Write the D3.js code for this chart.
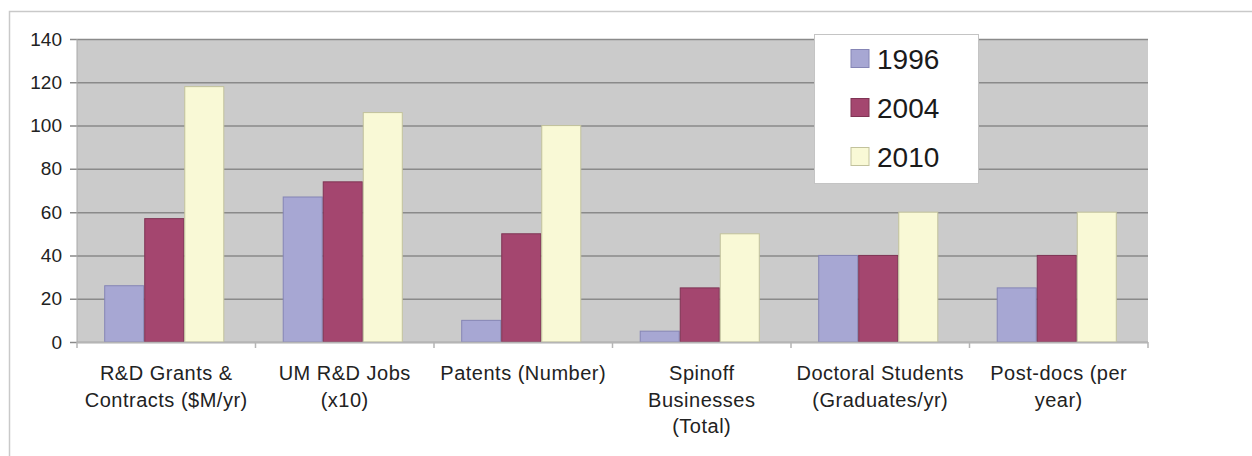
<!DOCTYPE html>
<html><head><meta charset="utf-8">
<script src="https://cdn.jsdelivr.net/npm/d3@7"></script>
<style>
html,body{margin:0;padding:0;background:#fff;}
svg{display:block;font-family:"Liberation Sans",Arial,sans-serif;}
</style></head>
<body>
<svg id="chart" width="1252" height="456"></svg>
<script>
const categories = [
  ["R&D Grants &", "Contracts ($M/yr)"],
  ["UM R&D Jobs", "(x10)"],
  ["Patents (Number)"],
  ["Spinoff", "Businesses", "(Total)"],
  ["Doctoral Students", "(Graduates/yr)"],
  ["Post-docs (per", "year)"]
];
const series = ["1996", "2004", "2010"];
const values1996 = [26, 67, 10, 5, 40, 25];
const values2004 = [57, 74, 50, 25, 40, 40];
const values2010 = [118, 106, 100, 50, 60, 60];
const yTicks = [0, 20, 40, 60, 80, 100, 120, 140];

const seriesValues = [values1996, values2004, values2010];
const fills = ["#a7a7d3", "#a4466f", "#f9f9d6"];
const strokes = ["#8585b5", "#7f3454", "#c2c29c"];

const svg = d3.select("#chart");
const pLeft = 77, pRight = 1148, pTop = 39, pBottom = 342;

// outer frame
svg.append("path").attr("d", "M9.5,456 V11.5 H1252")
  .attr("fill", "none").attr("stroke", "#c9c9c9").attr("stroke-width", 1.5);

const catIdx = categories.map((d, i) => i);
const x0 = d3.scaleBand().domain(catIdx).range([pLeft, pRight]).paddingInner(0).paddingOuter(0);
const x1 = d3.scaleBand().domain(series).range([-2, x0.bandwidth() - 2]).paddingInner(0).paddingOuter(0.73);
const y = d3.scaleLinear().domain([0, 140]).range([pBottom, pTop]);

// plot background
svg.append("rect").attr("x", pLeft).attr("y", pTop).attr("width", pRight - pLeft).attr("height", pBottom - pTop)
  .attr("fill", "#cbcbcb");

// gridlines + y axis
const yAxis = d3.axisLeft(y).tickValues(yTicks).tickSize(-(pRight - pLeft)).tickPadding(9);
const gy = svg.append("g").attr("transform", `translate(${pLeft},0)`).call(yAxis);
gy.select(".domain").remove();
gy.selectAll(".tick line").attr("stroke", "#8a8a8a").attr("stroke-width", 1.5).attr("x1", -7);
gy.selectAll(".tick text").attr("font-size", 19).attr("fill", "#222")
  .attr("font-family", "'Liberation Sans',Arial,sans-serif").attr("x", -15);
svg.append("line").attr("x1", pLeft).attr("x2", pLeft).attr("y1", pTop).attr("y2", pBottom)
  .attr("stroke", "#a8a8a8").attr("stroke-width", 1);

// bars
const groups = svg.append("g").selectAll("g").data(catIdx).join("g")
  .attr("transform", d => `translate(${x0(d)},0)`);
groups.selectAll("rect").data(ci => series.map((s, si) => ({s, si, v: seriesValues[si][ci]})))
  .join("rect")
  .attr("x", d => x1(d.s) + 0.5)
  .attr("width", x1.bandwidth() - 1)
  .attr("y", d => y(d.v))
  .attr("height", d => y(0) - y(d.v))
  .attr("fill", d => fills[d.si])
  .attr("stroke", d => strokes[d.si])
  .attr("stroke-width", 1);

// x axis
svg.append("line").attr("x1", pLeft).attr("x2", pRight).attr("y1", pBottom + 0.5).attr("y2", pBottom + 0.5)
  .attr("stroke", "#b5b5b5").attr("stroke-width", 1.5);
const boundaries = catIdx.map(i => x0(i)).concat([x0(catIdx[catIdx.length - 1]) + x0.bandwidth()]);
svg.append("g").selectAll("line").data(boundaries).join("line")
  .attr("x1", d => d).attr("x2", d => d).attr("y1", pBottom).attr("y2", pBottom + 6)
  .attr("stroke", "#b5b5b5").attr("stroke-width", 1.5);

// category labels
const labels = svg.append("g").selectAll("text").data(catIdx).join("text")
  .attr("x", d => x0(d) + x0.bandwidth() / 2)
  .attr("y", 380)
  .attr("text-anchor", "middle")
  .attr("font-size", 20)
  .attr("letter-spacing", 0.5)
  .attr("fill", "#222");
labels.selectAll("tspan").data(d => categories[d].map((t, k) => ({t, k, cx: x0(d) + x0.bandwidth() / 2})))
  .join("tspan")
  .attr("x", d => d.cx)
  .attr("dy", d => d.k === 0 ? 0 : 26.5)
  .text(d => d.t);

// legend
const lg = svg.append("g");
lg.append("rect").attr("x", 814.5).attr("y", 34.5).attr("width", 164).attr("height", 149)
  .attr("fill", "#fff").attr("stroke", "#c4c4c4").attr("stroke-width", 1);
const items = lg.selectAll("g").data(series).join("g")
  .attr("transform", (d, i) => `translate(0,${58.5 + i * 49})`);
items.append("rect").attr("x", 851).attr("y", -9).attr("width", 18).attr("height", 18)
  .attr("fill", (d, i) => fills[i]).attr("stroke", (d, i) => strokes[i]).attr("stroke-width", 1);
items.append("text").attr("x", 877).attr("y", 10).attr("font-size", 28).attr("fill", "#1a1a1a")
  .text(d => d);
</script>
</body></html>
